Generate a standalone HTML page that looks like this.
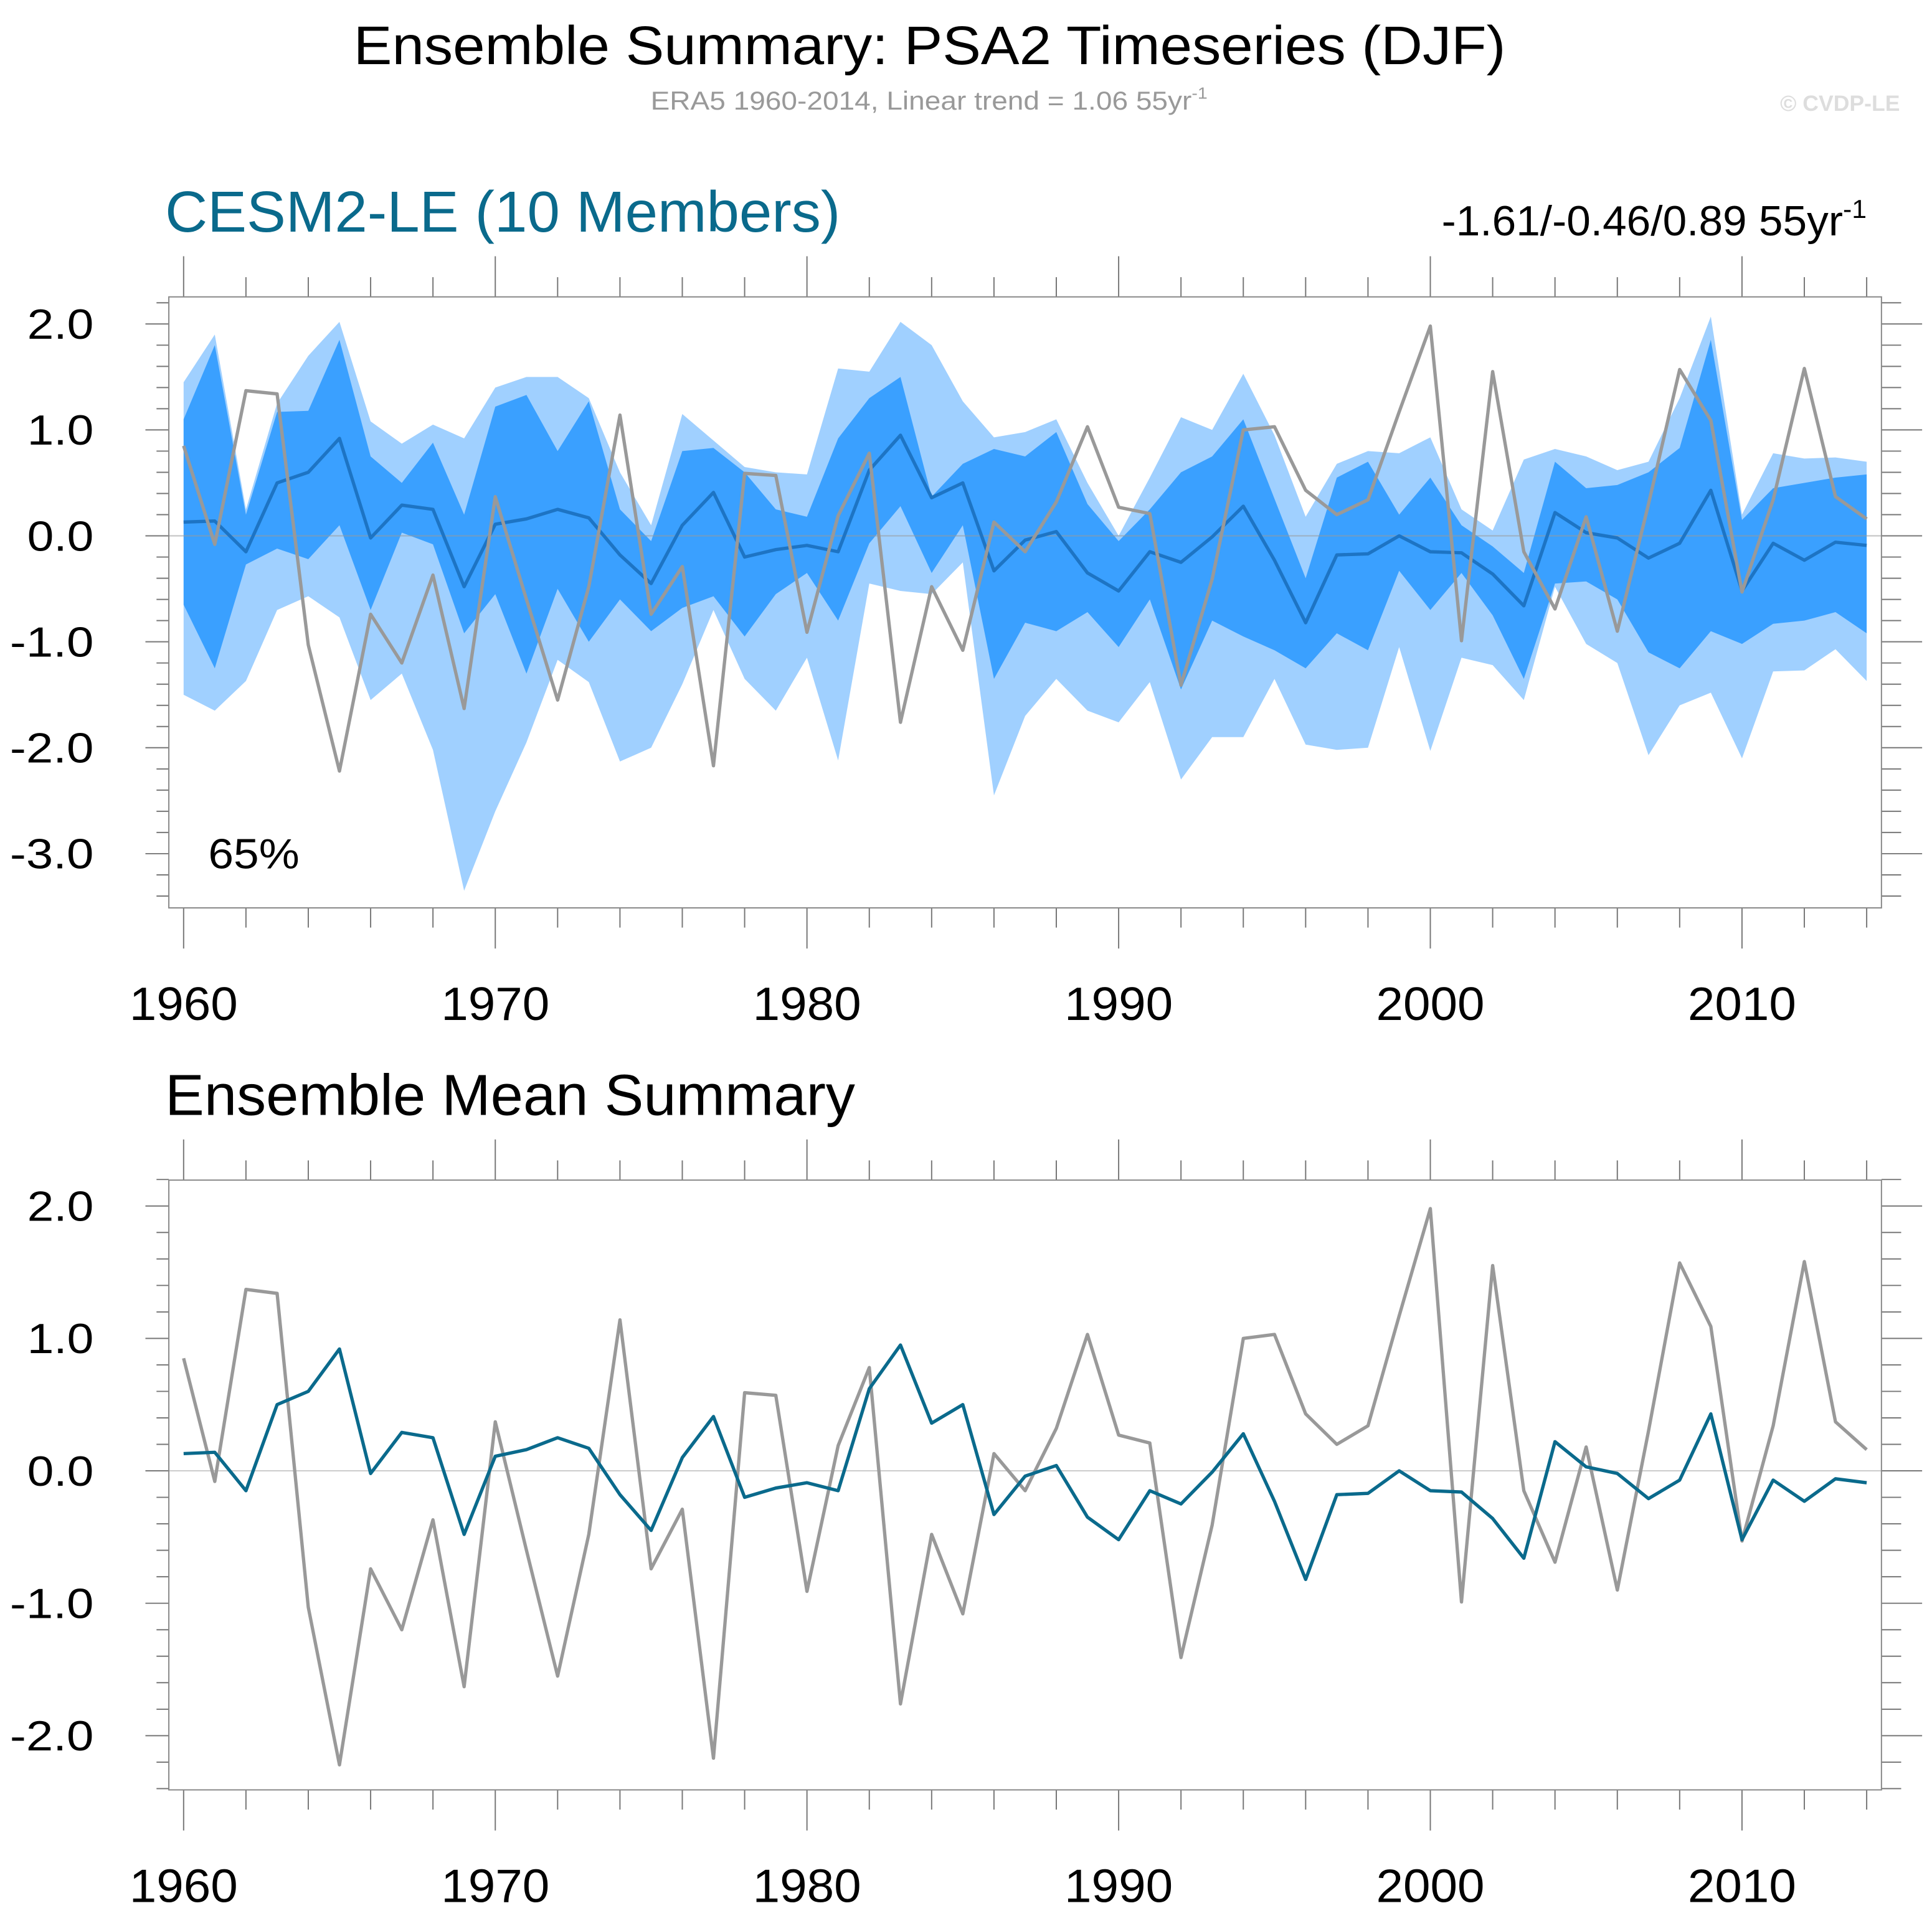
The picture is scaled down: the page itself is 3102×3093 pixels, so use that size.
<!DOCTYPE html>
<html><head><meta charset="utf-8"><style>
html,body{margin:0;padding:0;background:#fff}
svg{display:block;font-family:"Liberation Sans",sans-serif}
</style></head><body>
<svg id="c" width="3102" height="3093" viewBox="0 0 1568 1563.5" xmlns="http://www.w3.org/2000/svg">
<text x="287" y="52" font-size="44" textLength="935" lengthAdjust="spacingAndGlyphs" fill="#000">Ensemble Summary: PSA2 Timeseries (DJF)</text>
<text x="528" y="89" font-size="21" textLength="452" lengthAdjust="spacingAndGlyphs" fill="#999">ERA5 1960-2014, Linear trend = 1.06 55yr<tspan font-size="13" dy="-9">-1</tspan></text>
<text x="1542" y="90" font-size="18" font-weight="bold" text-anchor="end" fill="#ddd">© CVDP-LE</text>
<text x="134" y="188" font-size="47" textLength="548" lengthAdjust="spacingAndGlyphs" fill="#0a6a8c">CESM2-LE (10 Members)</text>
<text x="1170" y="191" font-size="34" textLength="345" lengthAdjust="spacingAndGlyphs" fill="#000">-1.61/-0.46/0.89 55yr<tspan font-size="21" dy="-14">-1</tspan></text>
<text x="134" y="905" font-size="47" textLength="560" lengthAdjust="spacingAndGlyphs" fill="#000">Ensemble Mean Summary</text>
<g id="top"></g><g id="bot"></g>
</svg>
<script>
const years=[];for(let y=1960;y<=2014;y++)years.push(y);
const era5=[0.85,-0.08,1.37,1.34,-1.03,-2.22,-0.74,-1.20,-0.37,-1.63,0.37,-0.6,-1.55,-0.48,1.14,-0.74,-0.29,-2.17,0.59,0.57,-0.91,0.19,0.78,-1.76,-0.48,-1.08,0.13,-0.15,0.32,1.03,0.27,0.21,-1.41,-0.41,1.0,1.03,0.43,0.2,0.34,1.17,1.98,-0.99,1.55,-0.15,-0.69,0.18,-0.9,0.3,1.57,1.09,-0.53,0.34,1.58,0.37,0.16];
const ensMean=[0.13,0.14,-0.15,0.5,0.6,0.92,-0.02,0.29,0.25,-0.48,0.11,0.16,0.25,0.17,-0.18,-0.45,0.1,0.41,-0.2,-0.13,-0.09,-0.15,0.62,0.95,0.36,0.5,-0.33,-0.04,0.04,-0.35,-0.52,-0.15,-0.25,-0.01,0.28,-0.23,-0.82,-0.18,-0.17,0.0,-0.15,-0.16,-0.36,-0.66,0.22,0.03,-0.02,-0.21,-0.07,0.43,-0.52,-0.07,-0.23,-0.06,-0.09];
const outerMax=[1.45,1.9,0.25,1.25,1.7,2.02,1.08,0.87,1.05,0.92,1.4,1.5,1.5,1.3,0.6,0.1,1.15,0.9,0.65,0.6,0.58,1.58,1.55,2.02,1.8,1.27,0.93,0.98,1.1,0.5,0.0,0.55,1.12,1.0,1.53,0.95,0.18,0.68,0.8,0.78,0.93,0.25,0.05,0.72,0.82,0.75,0.62,0.7,1.3,2.07,0.2,0.78,0.73,0.74,0.7];
const outerMin=[-1.5,-1.65,-1.37,-0.7,-0.57,-0.77,-1.55,-1.3,-2.02,-3.35,-2.6,-1.95,-1.17,-1.38,-2.13,-2.0,-1.4,-0.7,-1.35,-1.65,-1.15,-2.12,-0.45,-0.52,-0.55,-0.25,-2.45,-1.7,-1.35,-1.65,-1.76,-1.38,-2.3,-1.9,-1.9,-1.35,-1.97,-2.02,-2.0,-1.05,-2.03,-1.15,-1.22,-1.55,-0.48,-1.02,-1.2,-2.07,-1.6,-1.48,-2.1,-1.28,-1.27,-1.07,-1.37];
const innerMax=[1.1,1.8,0.2,1.17,1.18,1.85,0.75,0.5,0.88,0.2,1.22,1.33,0.8,1.27,0.25,-0.05,0.8,0.83,0.6,0.25,0.18,0.92,1.3,1.5,0.37,0.68,0.82,0.75,0.98,0.3,-0.05,0.25,0.6,0.75,1.1,0.35,-0.4,0.55,0.7,0.2,0.55,0.1,-0.1,-0.35,0.7,0.45,0.48,0.6,0.83,1.85,0.15,0.45,0.5,0.55,0.58];
const innerMin=[-0.65,-1.25,-0.27,-0.12,-0.22,0.1,-0.7,0.03,-0.08,-0.92,-0.55,-1.3,-0.5,-1.0,-0.6,-0.9,-0.68,-0.57,-0.95,-0.55,-0.35,-0.8,-0.07,0.28,-0.35,0.1,-1.35,-0.82,-0.9,-0.72,-1.05,-0.6,-1.45,-0.8,-0.95,-1.08,-1.25,-0.92,-1.08,-0.33,-0.7,-0.35,-0.75,-1.35,-0.45,-0.43,-0.6,-1.1,-1.25,-0.9,-1.02,-0.83,-0.8,-0.72,-0.92];
const topTicks=[2,1,0,-1,-2,-3];
const botTicks=[2,1,0,-1,-2];
const xTicks=[1960,1970,1980,1990,2000,2010];
const NS="http://www.w3.org/2000/svg";
function mk(p,t,a){const e=document.createElementNS(NS,t);for(const k in a)e.setAttribute(k,a[k]);p.appendChild(e);return e;}
const xs=y=>149+(y-1960)*(1515-149)/54;
function panel(g,box,yv,ymin,ymax,yt,pref){
  const [L,T,R,B]=box;
  const ys=v=>yv.y0-(v)*yv.k;
  for(let y=1960;y<=2014;y+=2){const maj=y%10==0,len=maj?33:16;
    mk(g,'line',{x1:xs(y),x2:xs(y),y1:T,y2:T-len,stroke:'#777','stroke-width':1});
    mk(g,'line',{x1:xs(y),x2:xs(y),y1:B,y2:B+len,stroke:'#777','stroke-width':1});}
  for(let v=Math.ceil(ymin*5)/5;v<=ymax+1e-9;v+=0.2){const vv=Math.round(v*10)/10;const maj=Math.abs(vv-Math.round(vv))<1e-6,len=maj?19:10;const y=ys(vv);
    mk(g,'line',{x1:L,x2:L-len,y1:y,y2:y,stroke:'#777','stroke-width':1});
    mk(g,'line',{x1:R,x2:R+(maj?33:16),y1:y,y2:y,stroke:'#777','stroke-width':1});}
  yt.forEach(v=>{const s=v.toFixed(1);const t=mk(g,'text',{x:76,y:ys(v)+12,'font-size':34,'text-anchor':'end',textLength:(s.length==4?68:54),lengthAdjust:'spacingAndGlyphs'});t.textContent=s;
    
    });
  xTicks.forEach(v=>{const t=mk(g,'text',{x:xs(v),y:B+91,'font-size':38,'text-anchor':'middle',textLength:88,lengthAdjust:'spacingAndGlyphs'});t.textContent=v;
    
    });
  return ys;
}
function poly(g,ys,hi,lo,fill,name){
  let d='M'+years.map((y,i)=>xs(y)+','+ys(hi[i])).join('L');
  d+='L'+years.map((y,i)=>xs(y)+','+ys(lo[i])).reverse().join('L')+'Z';
  const p=mk(g,'path',{d:d,fill:fill});
  
  
}
function line(g,ys,vals,col,w,name){
  const p=mk(g,'polyline',{points:years.map((y,i)=>xs(y)+','+ys(vals[i])).join(' '),fill:'none',stroke:col,'stroke-width':w,'stroke-linejoin':'round'});
  
  
}
const gt=document.getElementById('top');
const ysT=panel(gt,[137,241,1527,737],{y0:435,k:86},-3.4,2.2,topTicks,'top');
poly(gt,ysT,outerMax,outerMin,'#a0d0ff','ensemble-range-band');
poly(gt,ysT,innerMax,innerMin,'#3aa0ff','ensemble-inner-band');
mk(gt,'line',{x1:137,x2:1527,y1:ysT(0),y2:ysT(0),stroke:'#999','stroke-width':1,'stroke-opacity':0.6});
line(gt,ysT,ensMean,'#1d74c4',2.7,'top-ensemble-mean-line');
line(gt,ysT,era5,'#999',2.7,'top-era5-line');
const bt=mk(gt,'rect',{x:137,y:241,width:1390,height:496,fill:'none',stroke:'#888','stroke-width':1});


const pc=mk(gt,'text',{x:169,y:705,'font-size':34,textLength:74,lengthAdjust:'spacingAndGlyphs'});pc.textContent='65%';


const gb=document.getElementById('bot');
const ysB=panel(gb,[137,958,1527,1453],{y0:1194,k:107.5},-2.4,2.2,botTicks,'bottom');
mk(gb,'line',{x1:137,x2:1527,y1:ysB(0),y2:ysB(0),stroke:'#ccc','stroke-width':1});
line(gb,ysB,era5,'#999',2.7,'bottom-era5-line');
line(gb,ysB,ensMean,'#0a6a8c',2.7,'bottom-ensemble-mean-line');
const bb=mk(gb,'rect',{x:137,y:958,width:1390,height:495,fill:'none',stroke:'#888','stroke-width':1});


</script>
</body></html>
